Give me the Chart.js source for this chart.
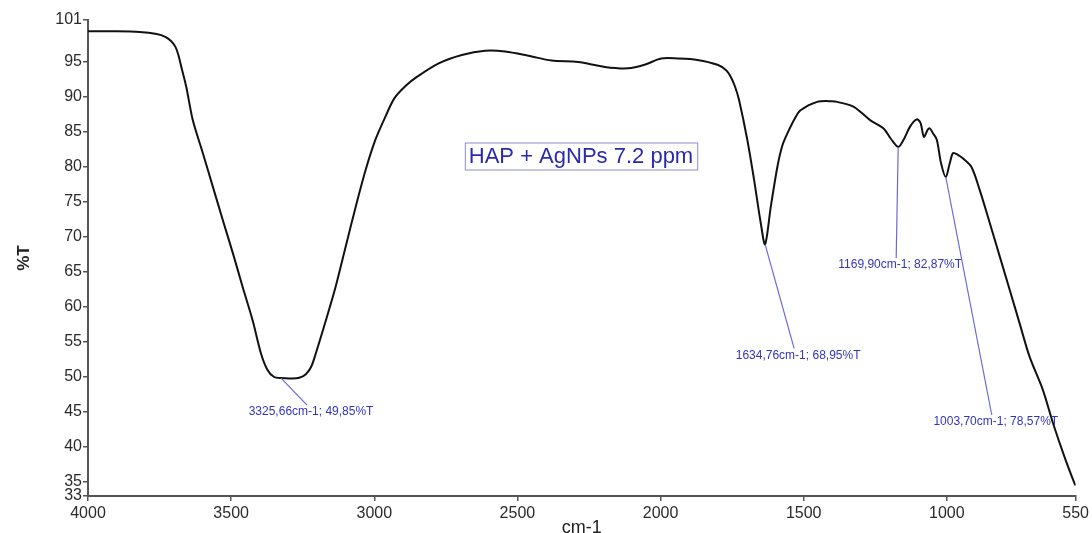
<!DOCTYPE html>
<html lang="en">
<head>
<meta charset="UTF-8">
<title>FTIR - HAP + AgNPs 7.2 ppm</title>
<style>
    body { margin: 0; background: #fff; }
    #wrap { width: 1092px; height: 533px; }
</style>
<script src="https://cdn.jsdelivr.net/npm/chart.js"></script>
</head>
<body>
<div id="wrap"><canvas id="ftir" width="1092" height="533"></canvas></div>
<script>
// spectrum: wavenumber (cm-1) and transmittance (%T)
const wavenumbers = [4000, 3900, 3820, 3760, 3730, 3710, 3695, 3685, 3674, 3657, 3634, 3599, 3564, 3529, 3494,
    3460, 3425, 3396, 3373, 3350, 3325.66, 3290, 3262, 3239, 3220, 3204, 3169, 3135, 3100, 3065, 3030, 2996,
    2961, 2930, 2890, 2850, 2775, 2694, 2613, 2543, 2462, 2381, 2288, 2195, 2114, 2056, 1998, 1940, 1871, 1801,
    1770, 1755, 1740, 1726, 1697, 1673, 1650, 1634.76, 1615, 1592, 1575, 1557, 1530, 1511, 1453, 1400, 1383,
    1325, 1268, 1221, 1195, 1169.90, 1151, 1128, 1105, 1092, 1080, 1067, 1059, 1048, 1035, 1020, 1003.70, 990,
    978, 960, 943, 914, 885, 850, 815, 780, 746, 711, 664, 629, 589, 554, 550];
const transmittance = [99.4, 99.4, 99.3, 99.0, 98.6, 98.0, 97.2, 96.1, 94.3, 91.5, 86.7, 82.0, 77.2, 72.4, 67.7,
    62.9, 58.1, 53.4, 51.0, 50.0, 49.85, 49.8, 49.9, 50.4, 51.5, 53.4, 58.1, 62.9, 68.6, 74.3, 79.6, 83.9,
    87.2, 89.8, 91.6, 92.9, 94.8, 96.0, 96.6, 96.5, 95.9, 95.2, 95.0, 94.3, 94.1, 94.6, 95.5, 95.5, 95.3, 94.6,
    93.8, 92.9, 91.5, 89.6, 83.9, 78.1, 72.0, 68.95, 74.3, 80.0, 83.0, 84.8, 87.0, 88.1, 89.3, 89.4, 89.3,
    88.6, 86.7, 85.5, 84.0, 82.87, 83.9, 85.8, 86.8, 86.3, 84.3, 85.3, 85.5, 84.8, 83.9, 80.5, 78.57, 80.5,
    82.0, 81.7, 81.2, 80.0, 76.7, 72.0, 67.2, 62.4, 57.7, 52.9, 48.1, 43.4, 38.6, 34.8, 34.5];

const xTicks = [4000, 3500, 3000, 2500, 2000, 1500, 1000, 550];
const yTicks = [33, 35, 40, 45, 50, 55, 60, 65, 70, 75, 80, 85, 90, 95, 101];

// marked peaks
const peakWn = [3325.66, 1634.76, 1169.90, 1003.70];
const peakT = [49.85, 68.95, 82.87, 78.57];
const peakLabels = ['3325,66cm-1; 49,85%T', '1634,76cm-1; 68,95%T', '1169,90cm-1; 82,87%T', '1003,70cm-1; 78,57%T'];
const sampleLabel = 'HAP + AgNPs 7.2 ppm';

// leader line end, relative to the peak (px)
const leaderEnd = [[26, 27], [29, 104], [-2, 111], [46, 238]];

const points = wavenumbers.map((w, i) => ({ x: w, y: transmittance[i] }));

const peakNotes = {
    id: 'peakNotes',
    afterDatasetsDraw(chart) {
        const { ctx, scales: { x, y }, chartArea } = chart;
        ctx.save();
        ctx.font = '12px "Liberation Sans", Arial, sans-serif';
        ctx.textAlign = 'center';
        ctx.textBaseline = 'middle';
        peakWn.forEach((w, i) => {
            const px = x.getPixelForValue(w);
            const py = y.getPixelForValue(peakT[i]);
            const ex = px + leaderEnd[i][0];
            const ey = py + leaderEnd[i][1];
            ctx.strokeStyle = '#6a6ad8';
            ctx.lineWidth = 1.2;
            ctx.beginPath();
            ctx.moveTo(px, py);
            ctx.lineTo(ex, ey);
            ctx.stroke();
            ctx.fillStyle = '#3434c0';
            ctx.fillText(peakLabels[i], ex + 4, ey + 7);
        });

        // sample name box
        ctx.font = '22px "Liberation Sans", Arial, sans-serif';
        const cx = chartArea.left + 493, cy = chartArea.top + 136;
        const tw = ctx.measureText(sampleLabel).width;
        ctx.fillStyle = '#fff';
        ctx.fillRect(cx - tw / 2 - 4, cy - 13.5, tw + 8, 27);
        ctx.strokeStyle = '#8c8cd2';
        ctx.lineWidth = 1;
        ctx.strokeRect(cx - tw / 2 - 4 + 0.5, cy - 13.5 + 0.5, tw + 8, 27);
        ctx.fillStyle = '#2a2aae';
        ctx.fillText(sampleLabel, cx, cy + 1);
        ctx.restore();
    }
};

const axisColor = '#555';
const tickFont = { family: '"Liberation Sans", Arial, sans-serif', size: 16 };

new Chart(document.getElementById('ftir'), {
    type: 'line',
    data: {
        datasets: [{
            data: points,
            borderColor: '#111',
            borderWidth: 2,
            pointRadius: 0,
            fill: false,
            tension: 0.3
        }]
    },
    plugins: [peakNotes],
    options: {
        responsive: false,
        animation: false,
        devicePixelRatio: 1,
        layout: { padding: { top: 20, right: 13, left: 0, bottom: 0 } },
        plugins: {
            legend: { display: false },
            tooltip: { enabled: false }
        },
        scales: {
            x: {
                type: 'linear',
                reverse: true,
                min: 550,
                max: 4000,
                afterBuildTicks: s => { s.ticks = xTicks.map(v => ({ value: v })); },
                afterFit: s => { s.height = 37; },
                border: { color: axisColor, width: 2 },
                grid: { drawOnChartArea: false, drawTicks: true, tickLength: 5, color: axisColor, lineWidth: 1.5 },
                ticks: { autoSkip: false, maxRotation: 0, padding: 3, color: '#2a2a2a', font: tickFont, callback: v => String(v) },
                title: {
                    display: true, text: 'cm-1', color: '#222',
                    font: { family: '"Liberation Sans", Arial, sans-serif', size: 18, lineHeight: 1 },
                    padding: { top: 0, bottom: -4 }
                }
            },
            y: {
                min: 33,
                max: 101,
                afterBuildTicks: s => { s.ticks = yTicks.map(v => ({ value: v })); },
                afterFit: s => { s.width = 88; },
                border: { color: axisColor, width: 2 },
                grid: { drawOnChartArea: false, drawTicks: true, tickLength: 5, color: axisColor, lineWidth: 1.5 },
                ticks: { autoSkip: false, padding: 1, color: '#2a2a2a', font: tickFont, callback: v => String(v) },
                title: {
                    display: true, text: '%T', color: '#222',
                    font: { family: '"Liberation Sans", Arial, sans-serif', size: 17, weight: 'bold', lineHeight: 1 },
                    padding: { top: 16, bottom: 0 }
                }
            }
        }
    }
});
</script>
</body>
</html>
